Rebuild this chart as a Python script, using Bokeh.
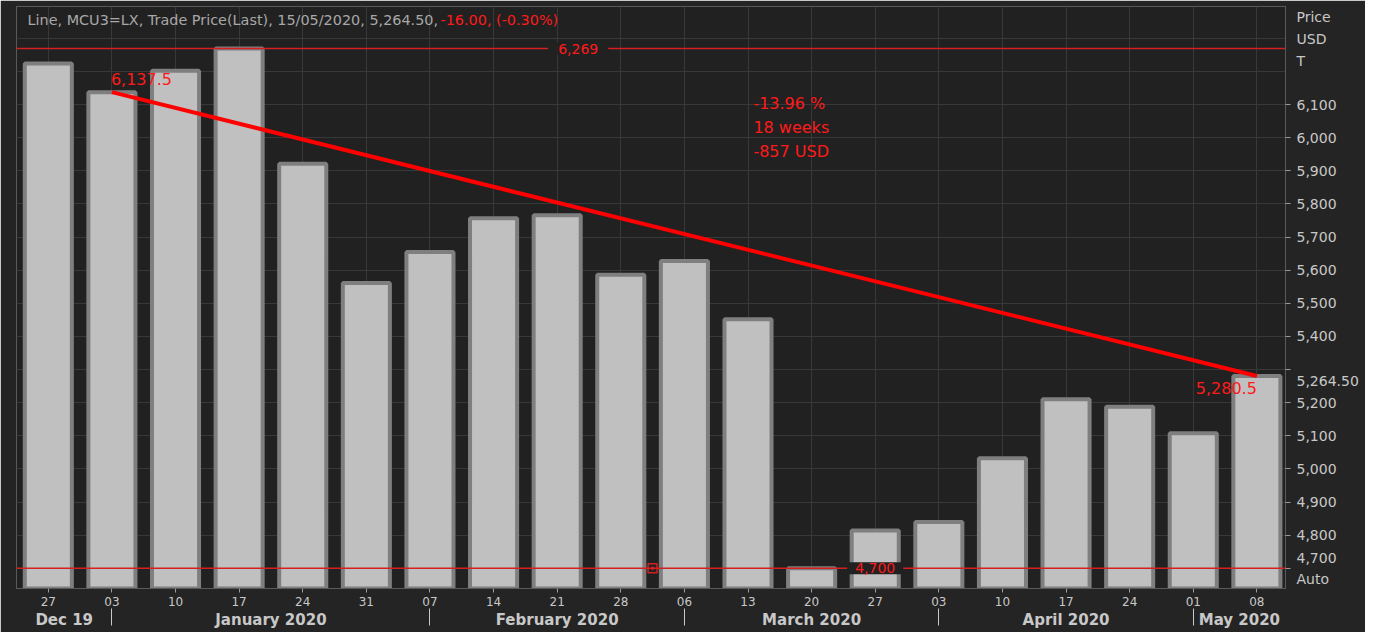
from bokeh.plotting import figure
from bokeh.models import Range1d, FixedTicker, LinearAxis, Label, Span, Grid
from bokeh.embed import file_html
from bokeh.resources import INLINE

# ---------------- data ----------------
day_labels = ["27", "03", "10", "17", "24", "31", "07", "14", "21", "28",
              "06", "13", "20", "27", "03", "10", "17", "24", "01", "08"]
prices = [6224, 6137.5, 6202, 6269, 5921, 5561, 5655, 5757, 5766, 5586,
          5628, 5452, 4700, 4814, 4840, 5032, 5210, 5188, 5108, 5280.5]
month_names = ["Dec 19", "January 2020", "February 2020", "March 2020", "April 2020", "May 2020"]
month_start_idx = [1, 6, 10, 14, 18]          # first weekly bar of Jan..May
price_ticks = list(range(4700, 6101, 100))
grid_ticks = list(range(4700, 6301, 100))
unit_labels = ["Price", "USD", "T"]
last_price = 5264.50
header_info = "Line, MCU3=LX, Trade Price(Last), 15/05/2020, 5,264.50, "
header_change = "-16.00, (-0.30%)"
trend_from, trend_to = 1, 19
min_marker_x = 9.5

# ---------------- styling ----------------
FONT = "DejaVu Sans"
BG = "#212121"
BORDER = "#242424"
GRID = "#383838"
TXT = "#c8c8c8"
RED = "#ff1a1a"
LINE_RED = "#d42020"

W, H = 1365, 632
FRAME_H = 582
x_idx = list(range(len(prices)))
x_start, x_end = -0.5, 19.45
y_start, y_end = 4639, 6396
upp = (y_end - y_start) / FRAME_H          # data units per pixel
max_val, min_val = max(prices), min(prices)

p = figure(width=W, height=H,
           x_range=Range1d(x_start, x_end), y_range=Range1d(y_start, y_end),
           output_backend="svg", toolbar_location=None,
           x_axis_location=None, y_axis_location=None,
           min_border_left=16, min_border_right=80, min_border_top=6, min_border_bottom=44,
           background_fill_color=BG, border_fill_color=BORDER,
           outline_line_color="#5a5a5a", outline_line_width=1)
p.grid.visible = False

p.add_layout(Grid(dimension=0, ticker=FixedTicker(ticks=x_idx), grid_line_color=GRID))
p.add_layout(Grid(dimension=1, ticker=FixedTicker(ticks=grid_ticks), grid_line_color=GRID))

# bars
p.vbar(x=x_idx, top=prices, bottom=y_start - 100, width=0.74,
       fill_color="#c0c0c0", line_color="#7f7f7f", line_width=4)

# max / min lines
p.add_layout(Span(location=max_val, dimension="width", line_color=LINE_RED, line_width=1.5))
p.add_layout(Span(location=min_val, dimension="width", line_color=LINE_RED, line_width=1.5))
p.add_layout(Label(x=8.33, y=max_val, text=f"{max_val:,.0f}", text_align="center", text_baseline="middle",
                   text_color=RED, text_font=FONT, text_font_size="14px",
                   background_fill_color=BG, padding=(10, 1)))
p.add_layout(Label(x=prices.index(min_val) + 1, y=min_val, text=f"{min_val:,.0f}", text_align="center",
                   text_baseline="middle", text_color=RED, text_font=FONT, text_font_size="14px",
                   background_fill_color=BG, padding=(8, 1)))
p.scatter(x=[min_marker_x], y=[min_val], marker="square", size=9, fill_color=BG,
          line_color=LINE_RED, line_width=1.5)
p.scatter(x=[min_marker_x], y=[min_val], marker="square", size=3, fill_color=LINE_RED, line_color=None)

# trend line
p0, p1 = prices[trend_from], prices[trend_to]
p.line(x=[trend_from, trend_to], y=[p0, p1], line_color="#ff0000", line_width=4)
p.add_layout(Label(x=trend_from, y=p0, text=f"{p0:,.1f}", x_offset=-1, y_offset=13,
                   text_baseline="middle", text_color=RED, text_font=FONT, text_font_size="16px"))
p.add_layout(Label(x=trend_to, y=p1, text=f"{p1:,.1f}", x_offset=0, y_offset=-12, text_align="right",
                   text_baseline="middle", text_color=RED, text_font=FONT, text_font_size="16px"))
stats = [f"{(p1 - p0) / p0 * 100:.2f} %", f"{trend_to - trend_from} weeks", f"{p1 - p0:,.0f} USD"]
for i, s in enumerate(stats):
    p.add_layout(Label(x=(trend_from + trend_to) / 2, y=y_end, text=s, x_offset=69, y_offset=-97 - 24 * i,
                       text_baseline="middle", text_color=RED, text_font=FONT, text_font_size="16px"))

# header
p.add_layout(Label(x=x_start, y=y_end, text=header_info, x_offset=11, y_offset=-13, text_baseline="middle",
                   text_color="#a8a8a8", text_font=FONT, text_font_size="14.4px"))
p.add_layout(Label(x=x_start, y=y_end, text=header_change, x_offset=424, y_offset=-13, text_baseline="middle",
                   text_color=RED, text_font=FONT, text_font_size="14.4px"))

# right price axis: labelled positions as major ticks (no marks), price grid as minor tick marks
label_pos = {}
for t in price_ticks:
    if t == min_val:
        label_pos[t + 10 * upp] = f"{t:,}"
    elif abs(t - last_price) > 40:
        label_pos[float(t)] = f"{t:,}"
for i, s in enumerate(unit_labels):
    label_pos[y_end - (10 + 22 * i) * upp] = s
label_pos[last_price] = f"{last_price:,.2f}"
label_pos[y_start + 9.5 * upp] = "Auto"
label_ticks = sorted(label_pos)

yaxis = LinearAxis(ticker=FixedTicker(ticks=label_ticks, minor_ticks=price_ticks),
                   major_label_overrides={k: label_pos[k] for k in label_ticks},
                   major_tick_out=0, major_tick_in=0, major_tick_line_color=None,
                   minor_tick_out=5, minor_tick_in=0, minor_tick_line_color="#9a9a9a",
                   major_label_standoff=6,
                   axis_line_color="#5a5a5a", major_label_text_color=TXT,
                   major_label_text_font=FONT, major_label_text_font_size="14px")
p.add_layout(yaxis, "right")

# bottom axes
xaxis = LinearAxis(ticker=FixedTicker(ticks=x_idx),
                   major_label_overrides={i: d for i, d in zip(x_idx, day_labels)},
                   major_tick_out=4, major_tick_in=0, major_label_standoff=4,
                   minor_tick_line_color=None, major_tick_line_color="#9a9a9a",
                   axis_line_color="#5a5a5a", major_label_text_color=TXT,
                   major_label_text_font=FONT, major_label_text_font_size="12px")
p.add_layout(xaxis, "below")

bounds = [x_start] + month_start_idx + [x_end]
month_centers = [(a + b) / 2 for a, b in zip(bounds[:-1], bounds[1:])]
maxis = LinearAxis(ticker=FixedTicker(ticks=month_centers, minor_ticks=month_start_idx),
                   major_label_overrides={c: n for c, n in zip(month_centers, month_names)},
                   major_tick_out=0, major_tick_in=0, major_label_standoff=-15,
                   minor_tick_out=17, minor_tick_in=0, minor_tick_line_color=TXT,
                   major_tick_line_color=None, axis_line_color=None,
                   major_label_text_color=TXT, major_label_text_font=FONT,
                   major_label_text_font_size="15px", major_label_text_font_style="bold")
p.add_layout(maxis, "below")

open("out.html", "w").write(file_html(p, INLINE))
